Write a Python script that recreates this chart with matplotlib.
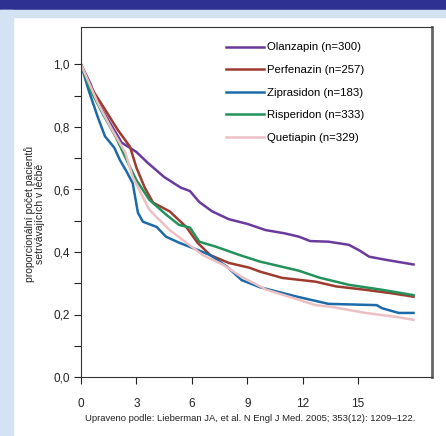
import matplotlib.pyplot as plt
from matplotlib.patches import Rectangle
from matplotlib.ticker import FixedLocator

plt.rcParams['font.family'] = ['Liberation Sans', 'DejaVu Sans']

# (měsíce, podíl pacientů v léčbě)
olanzapin_t = [0, 0.5, 0.9, 1.6, 2.2, 3.0, 3.6, 4.5, 5.4, 5.9, 6.4, 7.1, 8.0, 9.0, 10.0, 11.0, 11.8, 12.4, 13.4, 14.5, 15.1, 15.6, 16.5, 18.0]
olanzapin_v = [1.0, 0.94, 0.88, 0.81, 0.75, 0.72, 0.686, 0.64, 0.606, 0.595, 0.56, 0.53, 0.505, 0.49, 0.47, 0.46, 0.449, 0.435, 0.433, 0.423, 0.404, 0.385, 0.375, 0.36]

perfenazin_t = [0, 0.5, 1.3, 2.0, 2.65, 3.0, 3.45, 3.9, 4.8, 5.7, 6.3, 7.0, 8.0, 9.1, 9.7, 10.9, 11.8, 12.7, 13.8, 15.4, 16.8, 18.0]
perfenazin_v = [1.0, 0.93, 0.856, 0.79, 0.737, 0.67, 0.606, 0.558, 0.53, 0.48, 0.43, 0.39, 0.365, 0.35, 0.337, 0.317, 0.311, 0.305, 0.29, 0.279, 0.268, 0.257]

ziprasidon_t = [0, 0.4, 0.9, 1.3, 1.8, 2.1, 2.5, 2.8, 3.08, 3.35, 4.1, 4.6, 5.3, 6.3, 7.0, 7.9, 8.7, 9.7, 11.7, 13.4, 16.0, 16.3, 17.2, 18.0]
ziprasidon_v = [1.0, 0.92, 0.833, 0.77, 0.734, 0.695, 0.654, 0.62, 0.526, 0.497, 0.48, 0.449, 0.43, 0.407, 0.39, 0.353, 0.31, 0.287, 0.257, 0.234, 0.23, 0.22, 0.205, 0.205]

risperidon_t = [0, 0.5, 1.2, 1.9, 2.5, 3.0, 3.7, 4.6, 5.3, 5.9, 6.4, 7.3, 8.6, 9.7, 10.0, 11.8, 12.9, 14.5, 16.3, 18.0]
risperidon_v = [1.0, 0.92, 0.84, 0.766, 0.69, 0.63, 0.567, 0.52, 0.487, 0.478, 0.433, 0.417, 0.39, 0.369, 0.365, 0.34, 0.318, 0.295, 0.279, 0.262]

quetiapin_t = [0, 0.9, 1.6, 2.4, 2.8, 3.7, 4.8, 5.7, 6.6, 7.7, 8.7, 9.7, 10.0, 11.8, 12.7, 13.6, 15.4, 17.1, 18.0]
quetiapin_v = [1.0, 0.878, 0.8, 0.718, 0.64, 0.535, 0.47, 0.43, 0.39, 0.359, 0.32, 0.29, 0.28, 0.247, 0.23, 0.224, 0.205, 0.192, 0.183]

labels = ['Olanzapin (n=300)', 'Perfenazin (n=257)', 'Ziprasidon (n=183)',
          'Risperidon (n=333)', 'Quetiapin (n=329)']
colors = ['#6a3a9c', '#9e3b2e', '#1c6aa8', '#23915a', '#ecbfc3']
x_ticks = [0, 3, 6, 9, 12, 15]
y_ticks = [0.0, 0.2, 0.4, 0.6, 0.8, 1.0]
y_minor = [0.1, 0.3, 0.5, 0.7, 0.9]
y_ticklabels = ['0,0', '0,2', '0,4', '0,6', '0,8', '1,0']

fig = plt.figure(figsize=(4.46, 4.36), dpi=100)
W, H = 446, 436
# hlavička a podklad
fig.patches.append(Rectangle((0, 1 - 9 / H), 1, 9 / H, transform=fig.transFigure, color='#2e3192', zorder=0))
fig.patches.append(Rectangle((0, 1 - 17 / H), 1, 7 / H, transform=fig.transFigure, color='#d3e3f3', zorder=0))
fig.patches.append(Rectangle((0, 0), 13 / W, 1 - 10 / H, transform=fig.transFigure, color='#d3e3f3', zorder=0))

ax = fig.add_axes([81 / W, 59 / H, 351 / W, 350 / H])
series = [(olanzapin_t, olanzapin_v), (perfenazin_t, perfenazin_v), (ziprasidon_t, ziprasidon_v),
          (risperidon_t, risperidon_v), (quetiapin_t, quetiapin_v)]
for (t, v), c, lab in zip(series, colors, labels):
    ax.plot(t, v, color=c, lw=1.8, label=lab)

ax.set_xlim(0, 19)
ax.set_ylim(0, 1.12)
ax.set_xticks(x_ticks)
ax.set_yticks(y_ticks)
ax.set_yticklabels(y_ticklabels)
ax.yaxis.set_minor_locator(FixedLocator(y_minor))
ax.tick_params(axis='both', which='both', direction='out', length=5, width=0.8, labelsize=8.5, colors='#222222')
ax.tick_params(axis='x', pad=10)
ax.tick_params(axis='y', pad=3)
for s in ['left', 'bottom', 'top']:
    ax.spines[s].set_color('#333333')
    ax.spines[s].set_linewidth(0.8)
ax.spines['right'].set_color('#666666')
ax.spines['right'].set_linewidth(2)

ax.legend(loc='upper left', bbox_to_anchor=(0.385, 0.985), frameon=False, fontsize=8.2,
          handlelength=3.3, handletextpad=0.3, labelspacing=1.1)

fig.text(35 / W, 1 - 214 / H, 'proporcionální počet pacientů\nsetrvávajících v léčbě', rotation=90,
         ha='center', va='center', fontsize=7.5, color='#222222', linespacing=1.0)
fig.text(250 / W, 1 - 418 / H, 'Upraveno podle: Lieberman JA, et al. N Engl J Med. 2005; 353(12): 1209\u2013122.',
         ha='center', va='center', fontsize=6.8, color='#222222')

fig.savefig('out.png', dpi=100, facecolor='white')
